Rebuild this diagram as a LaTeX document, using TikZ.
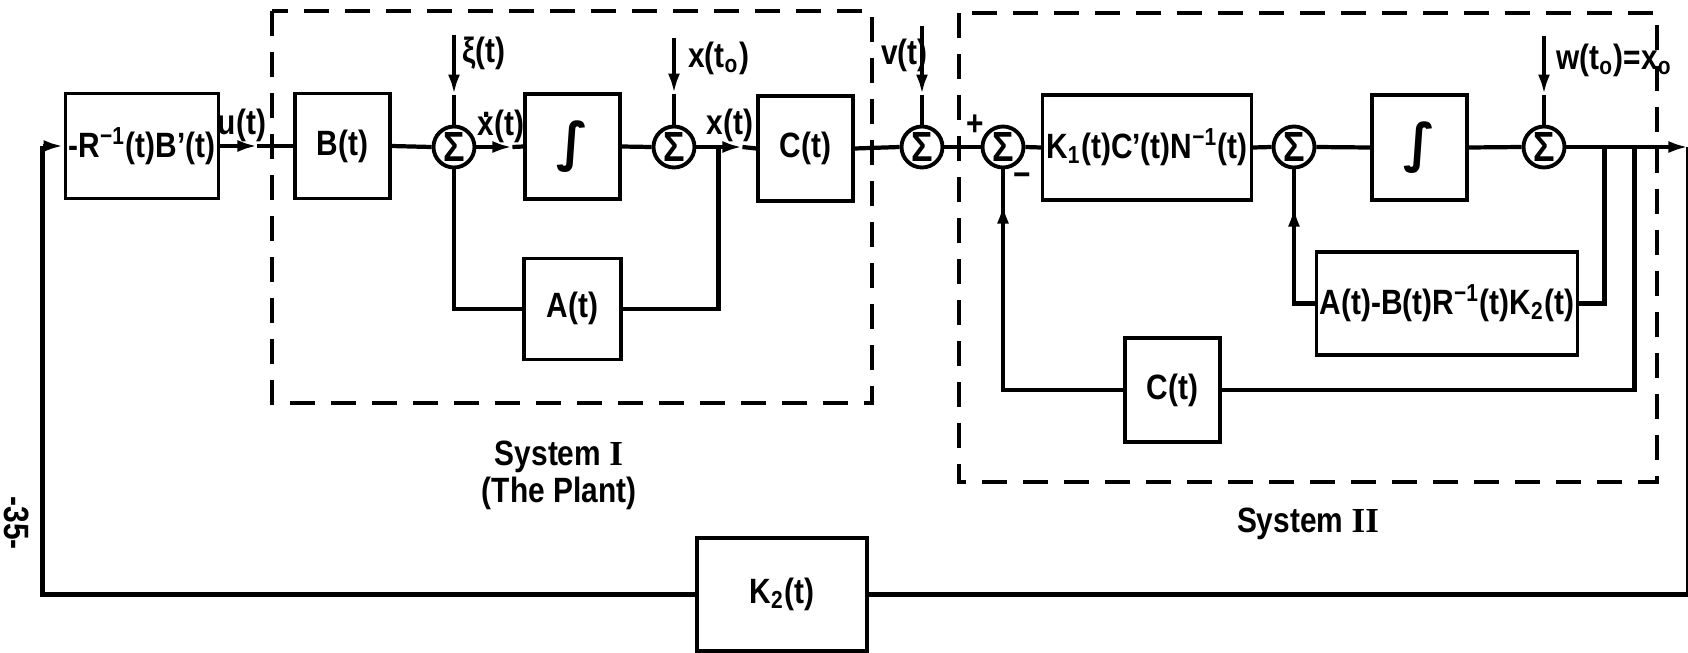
\documentclass[tikz,border=0pt]{standalone}
\usepackage{fontspec}
\setmainfont{Liberation Serif}
\setsansfont{Liberation Sans}[FakeStretch=0.85]
\newfontfamily\symfont{DejaVu Sans}
\usetikzlibrary{positioning,arrows.meta,decorations.markings}

\newcommand\xdotsym{\makebox[0pt][l]{\hspace{0.14em}\raisebox{0.5em}{.}}x}
\newcommand\integral{{\symfont\bfseries\fontsize{15}{15}\selectfont ∫}}

\tikzset{
  sys block/.style={
    rectangle,
    draw,
    line width=0.9pt,
    minimum width=9.5mm,
    minimum height=10.5mm,
    inner xsep=1pt,
    font=\sffamily\bfseries,
  },
  sum junction/.style={
    circle,
    draw,
    line width=1.1pt,
    minimum size=4.1mm,
    inner sep=-1.5pt,
    fill=white,
    font=\sffamily\bfseries\large,
  },
  sig line/.style={line width=1.2pt},
  sig arrow/.style={sig line, -{Latex[length=2mm,width=1.2mm]}},
  mid arrow/.style={
    sig line,
    postaction={decorate},
    decoration={markings, mark=at position #1 with {\arrow{Latex[length=2mm,width=1.2mm]}}},
  },
  mid arrow/.default=0.5,
  sys frame/.style={line width=0.9pt, dash pattern=on 2.5mm off 1.6mm},
  sig label/.style={font=\sffamily\bfseries, inner sep=1pt},
}

\begin{document}
\begin{tikzpicture}
  \useasboundingbox (0,0) rectangle (16.88,-6.52);

  \draw[sys frame] (2.72,-0.11) rectangle (8.72,-4.03);
  \draw[sys frame] (9.59,-0.13) rectangle (16.57,-4.82);

  \node[sys block, minimum width=14.8mm] (rbox) at (1.42,-1.46) {-R\textsuperscript{−1}(t)B'(t)};
  \node[sys block] (bbox) at (3.425,-1.46) {B(t)};
  \node[sum junction] (s1) at (4.54,-1.47) {Σ};
  \node[sys block] (int1) at (5.725,-1.465) {\integral};
  \node[sum junction] (s2) at (6.74,-1.47) {Σ};
  \node[sys block] (cbox) at (8.055,-1.485) {C(t)};
  \node[sum junction] (sv) at (9.22,-1.47) {Σ};
  \node[sum junction] (s3) at (10.03,-1.47) {Σ};
  \node[sys block, minimum width=20mm] (kbox) at (11.47,-1.475) {K\textsubscript{1}(t)C'(t)N\textsuperscript{−1}(t)};
  \node[sum junction] (s4) at (12.94,-1.47) {Σ};
  \node[sys block] (int2) at (14.195,-1.475) {\integral};
  \node[sum junction] (s5) at (15.44,-1.47) {Σ};

  \node[sys block, minimum width=9.7mm, minimum height=10.1mm, below=5.6mm of int1] (abox) {A(t)};
  \node[sys block, minimum width=26mm, minimum height=10.3mm] (abrbox) at (14.47,-3.035) {A(t)-B(t)R\textsuperscript{−1}(t)K\textsubscript{2}(t)};
  \node[sys block, minimum height=10.4mm] (c2box) at (11.725,-3.90) {C(t)};
  \node[sys block, minimum width=17mm, minimum height=11.3mm] (k2box) at (7.82,-5.945) {K\textsubscript{2}(t)};

  \path (rbox.west) ++(-0.21,0) coordinate (fbl);
  \path (rbox.east) ++(0.37,0) coordinate (utip);
  \path (s1.east) ++(0.36,0) coordinate (xdtip);
  \path (s2.east) ++(0.22,0) coordinate (xbr);
  \path (s2.east) ++(0.46,0) coordinate (xtip);
  \path (s5.east) ++(0.38,0) coordinate (b1);
  \path (s5.east) ++(0.68,0) coordinate (b2);
  \path (s5.east) ++(1.22,0) coordinate (out);
  \path (s1.north) ++(0,0.90) coordinate (xiin);
  \path (s1.north) ++(0,0.30) coordinate (xitip);
  \path (s2.north) ++(0,0.87) coordinate (x0in);
  \path (s2.north) ++(0,0.31) coordinate (x0tip);
  \path (sv.north) ++(0,0.99) coordinate (vin);
  \path (sv.north) ++(0,0.30) coordinate (vtip);
  \path (s5.north) ++(0,0.89) coordinate (win);
  \path (s5.north) ++(0,0.30) coordinate (wtip);

  \draw[sig arrow] (rbox.east) -- (utip);
  \draw[sig line] (utip) -- (bbox.west);
  \draw[sig line] (bbox.east) -- (s1.west);
  \draw[sig arrow] (s1.east) -- (xdtip);
  \draw[sig line] (xdtip) -- (int1.west);
  \draw[sig line] (int1.east) -- (s2.west);
  \draw[sig arrow] (s2.east) -- (xtip);
  \draw[sig line] (xtip) -- (cbox.west);
  \draw[sig line] (cbox.east) -- (sv.west);
  \draw[sig line] (sv.east) -- (s3.west);
  \draw[sig line] (s3.east) -- (kbox.west);
  \draw[sig line] (kbox.east) -- (s4.west);
  \draw[sig line] (s4.east) -- (int2.west);
  \draw[sig line] (int2.east) -- (s5.west);
  \draw[sig arrow] (s5.east) -- (out);

  \draw[sig arrow] (xiin) -- (xitip);
  \draw[sig line] (xitip) -- (s1.north);
  \draw[sig arrow] (x0in) -- (x0tip);
  \draw[sig line] (x0tip) -- (s2.north);
  \draw[sig arrow] (vin) -- (vtip);
  \draw[sig line] (vtip) -- (sv.north);
  \draw[sig arrow] (win) -- (wtip);
  \draw[sig line] (wtip) -- (s5.north);

  \draw[sig line] (xbr) |- (abox.east);
  \draw[sig line] (abox.west) -| (s1.south);
  \draw[sig line] (b1) |- (abrbox.east);
  \draw[mid arrow=0.76] (abrbox.west) -| (s4.south);
  \draw[sig line] (b2) |- (c2box.east);
  \draw[mid arrow=0.9] (c2box.west) -| (s3.south);

  \draw[sig line] (out) |- (k2box.east);
  \draw[sig line] (k2box.west) -| (fbl);
  \draw[sig arrow] (fbl) -- (rbox.west);

  \node[sig label] (lu) at (2.42,-1.25) {u(t)};
  \node[sig label, anchor=west] (lxi) at (4.58,-0.53) {ξ(t)};
  \node[sig label] (lxd) at (5.01,-1.26) {\xdotsym(t)};
  \node[sig label, anchor=west] (lx0) at (6.84,-0.58) {x(t\textsubscript{o})};
  \node[sig label] (lx) at (7.30,-1.25) {x(t)};
  \node[sig label, anchor=west] (lv) at (8.77,-0.55) {v(t)};
  \node[sig label] (lplus) at (9.75,-1.25) {+};
  \node[sig label] (lminus) at (10.22,-1.80) {−};
  \node[sig label, anchor=west] (lw) at (15.52,-0.60) {w(t\textsubscript{o})=x\textsubscript{o}};

  \node[sig label] (sys1) at (5.59,-4.57) {System \textrm{I}};
  \node[sig label] (sys1b) at (5.59,-4.93) {(The Plant)};
  \node[sig label] (sys2) at (13.08,-5.24) {System \textrm{II}};
  \node[sig label, rotate=-90] (pgno) at (0.17,-5.23) {-35-};
\end{tikzpicture}
\end{document}
